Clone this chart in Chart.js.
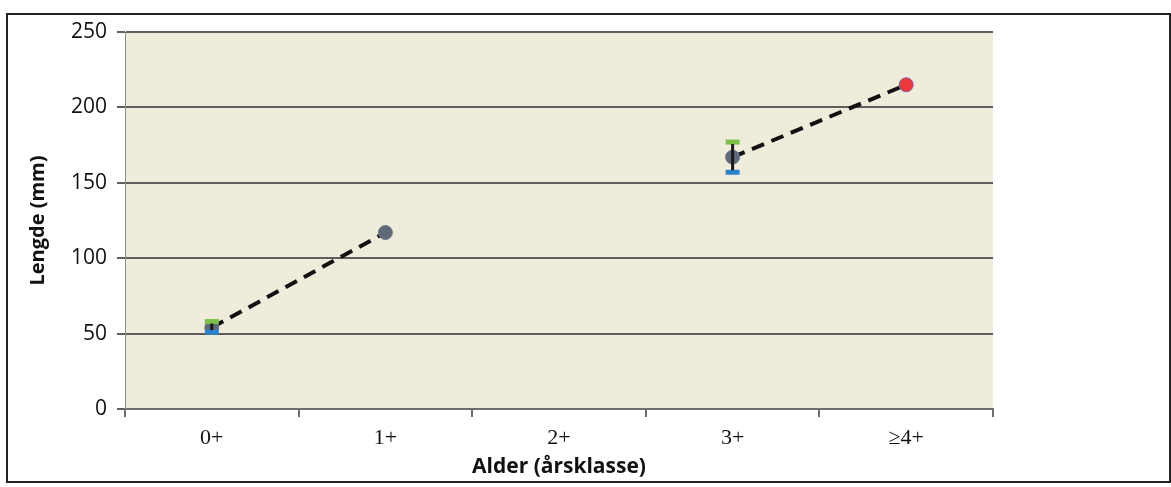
<!DOCTYPE html>
<html>
<head>
<meta charset="utf-8">
<script src="https://cdn.jsdelivr.net/npm/chart.js@4"></script>
<style>
    html, body { margin: 0; padding: 0; background: #fff; }
    #wrap { position: relative; width: 1171px; height: 487px; }
    #frame {
        position: absolute; left: 6px; top: 13px; width: 1161px; height: 466px;
        border: 2px solid #222; pointer-events: none;
    }
</style>
</head>
<body>
<div id="wrap">
    <canvas id="chart" width="1171" height="487"></canvas>
    <div id="frame"></div>
</div>
<script>
// Age classes and lengths (mm)
const categories = ['0+', '1+', '2+', '3+', '\u22654+'];
const meanLength = [54, 117, null, 167, 215];
const maxLength = [58, null, null, 177, null];
const minLength = [51, null, null, 157, null];
const yTicks = [0, 50, 100, 150, 200, 250];

const plotBackground = {
    id: 'plotBackground',
    beforeDraw(chart) {
        const { ctx, chartArea: a } = chart;
        ctx.save();
        ctx.fillStyle = '#efecdc';
        ctx.fillRect(a.left, a.top, a.right - a.left, a.bottom - a.top);
        ctx.restore();
    }
};

// Black vertical bar between min and max, drawn over the mean marker
const rangeBars = {
    id: 'rangeBars',
    afterDatasetsDraw(chart) {
        const { ctx, scales: { x, y } } = chart;
        ctx.save();
        ctx.strokeStyle = '#1a1a1a';
        ctx.lineWidth = 3;
        categories.forEach((c, i) => {
            if (minLength[i] == null || maxLength[i] == null) return;
            const px = x.getPixelForValue(i);
            ctx.beginPath();
            ctx.moveTo(px, y.getPixelForValue(minLength[i]) - 2);
            ctx.lineTo(px, y.getPixelForValue(maxLength[i]) + 2);
            ctx.stroke();
        });
        ctx.restore();
    }
};

new Chart(document.getElementById('chart'), {
    type: 'line',
    data: {
        labels: categories,
        datasets: [
            {
                label: 'Maks',
                data: maxLength,
                showLine: false,
                pointStyle: 'line',
                pointRadius: 7,
                pointBorderWidth: 5,
                pointBorderColor: '#7cc04a',
                pointBackgroundColor: '#7cc04a',
                order: 1
            },
            {
                label: 'Min',
                data: minLength,
                showLine: false,
                pointStyle: 'line',
                pointRadius: 7,
                pointBorderWidth: 5,
                pointBorderColor: '#2a83cc',
                pointBackgroundColor: '#2a83cc',
                order: 2
            },
            {
                label: 'Snitt',
                data: meanLength,
                borderColor: '#111',
                borderWidth: 4,
                borderDash: [13, 8],
                spanGaps: false,
                pointRadius: 7,
                pointBorderWidth: 1,
                pointBackgroundColor: ['#5f6a78', '#5f6a78', '#5f6a78', '#5f6a78', '#ec3a3c'],
                pointBorderColor: ['#6f7a88', '#6f7a88', '#6f7a88', '#6f7a88', '#8a5aa0'],
                order: 3
            }
        ]
    },
    options: {
        responsive: false,
        animation: false,
        layout: { padding: { left: 0, top: 32, right: 178, bottom: 0 } },
        plugins: {
            legend: { display: false },
            tooltip: { enabled: false }
        },
        scales: {
            x: {
                offset: true,
                afterFit: (s) => { s.height = 487 - 409; },
                grid: {
                    offset: true,
                    drawOnChartArea: false,
                    drawTicks: true,
                    tickLength: 8,
                    color: '#6e6e6e',
                    lineWidth: 2
                },
                border: { color: '#6e6e6e', width: 2 },
                ticks: {
                    color: '#111',
                    padding: 8,
                    font: { family: "'Liberation Serif', serif", size: 22 }
                },
                title: {
                    display: true,
                    text: 'Alder (årsklasse)',
                    color: '#111',
                    padding: { top: 0, bottom: 7 },
                    font: { family: "'Open Sans', sans-serif", size: 21, weight: 'bold' }
                }
            },
            y: {
                min: 0,
                max: 250,
                afterFit: (s) => { s.width = 125; },
                afterBuildTicks: (s) => { s.ticks = yTicks.map(v => ({ value: v })); },
                grid: {
                    color: '#5e5e5e',
                    lineWidth: 2,
                    tickLength: 8
                },
                border: { color: '#8a8a8a', width: 1 },
                ticks: {
                    color: '#111',
                    padding: 10,
                    font: { family: "'Open Sans', sans-serif", size: 21 }
                },
                title: {
                    display: true,
                    text: 'Lengde (mm)',
                    color: '#111',
                    padding: { top: 26, bottom: 0 },
                    font: { family: "'Open Sans', sans-serif", size: 20, weight: 'bold' }
                }
            }
        }
    },
    plugins: [plotBackground, rangeBars]
});
</script>
</body>
</html>
